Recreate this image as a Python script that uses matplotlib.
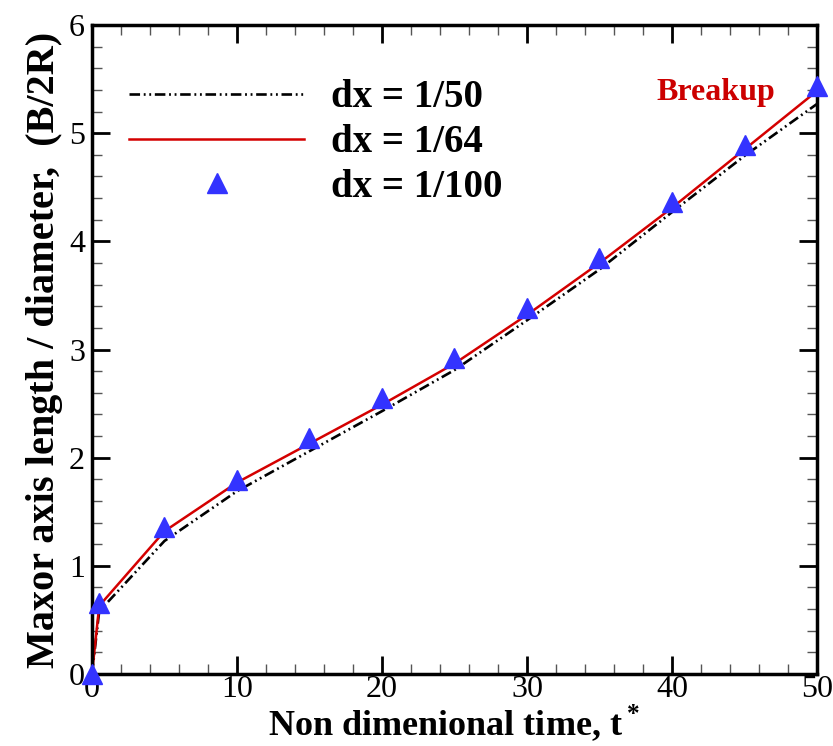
import matplotlib
matplotlib.use("Agg")
import matplotlib.pyplot as plt
from matplotlib.ticker import MultipleLocator

plt.rcParams["font.family"] = ["Liberation Serif", "DejaVu Serif"]
plt.rcParams["mathtext.fontset"] = "custom"
plt.rcParams["mathtext.rm"] = "Liberation Serif:bold"
plt.rcParams["mathtext.bf"] = "Liberation Serif:bold"

# Time instants
t = [0, 0.5, 5, 10, 15, 20, 25, 30, 35, 40, 45, 50]

# Major axis length / diameter for each grid size
b_dx50 = [0, 0.58, 1.23, 1.69, 2.06, 2.43, 2.81, 3.27, 3.74, 4.27, 4.79, 5.27]
b_dx64 = [0, 0.63, 1.32, 1.77, 2.13, 2.49, 2.87, 3.32, 3.80, 4.31, 4.85, 5.39]
b_dx100 = [0, 0.66, 1.36, 1.79, 2.18, 2.55, 2.92, 3.38, 3.85, 4.36, 4.89, 5.44]

fig = plt.figure(figsize=(8.33, 7.46), dpi=100)
ax = fig.add_axes([0.1104, 0.0965, 0.8704, 0.870])

ax.plot(t, b_dx50, color="black", lw=1.9,
        linestyle=(0, (4, 1.4, 0.7, 1.4, 0.7, 1.4)), label="dx = 1/50", clip_on=False)
ax.plot(t, b_dx64, color="#d40000", lw=1.8, label="dx = 1/64", clip_on=False)
ax.plot(t, b_dx100, linestyle="none", marker="^", ms=14, color="#3333ff",
        label="dx = 1/100", clip_on=False, zorder=5)

ax.text(43, 5.38, "Breakup", color="#cc0000", fontsize=23, fontweight="bold",
        ha="center", va="center")

ax.set_xlim(0, 50)
ax.set_ylim(0, 6)
ax.xaxis.set_major_locator(MultipleLocator(10))
ax.xaxis.set_minor_locator(MultipleLocator(2))
ax.yaxis.set_major_locator(MultipleLocator(1))
ax.yaxis.set_minor_locator(MultipleLocator(0.2))
ax.tick_params(which="both", direction="in", top=True, right=True, labelsize=23)
ax.tick_params(which="major", length=13, width=2)
ax.tick_params(which="minor", length=7, width=1, color="#555555")
ax.tick_params(axis="x", pad=1)
ax.tick_params(axis="y", pad=5)
for s in ax.spines.values():
    s.set_linewidth(2.5)

ax.set_xlabel("Non dimenional time, t$^*$", fontsize=26, fontweight="bold", labelpad=-2)
ax.set_ylabel("Maxor axis length / diameter,  (B/2R)", fontsize=29,
              fontweight="bold", labelpad=4)

leg = ax.legend(loc="upper left", bbox_to_anchor=(0.03, 0.94), frameon=False,
                prop={"size": 28, "weight": "bold"}, handlelength=4.5,
                handletextpad=0.7, labelspacing=0.2, borderaxespad=0)

fig.savefig("out.png", dpi=100)
